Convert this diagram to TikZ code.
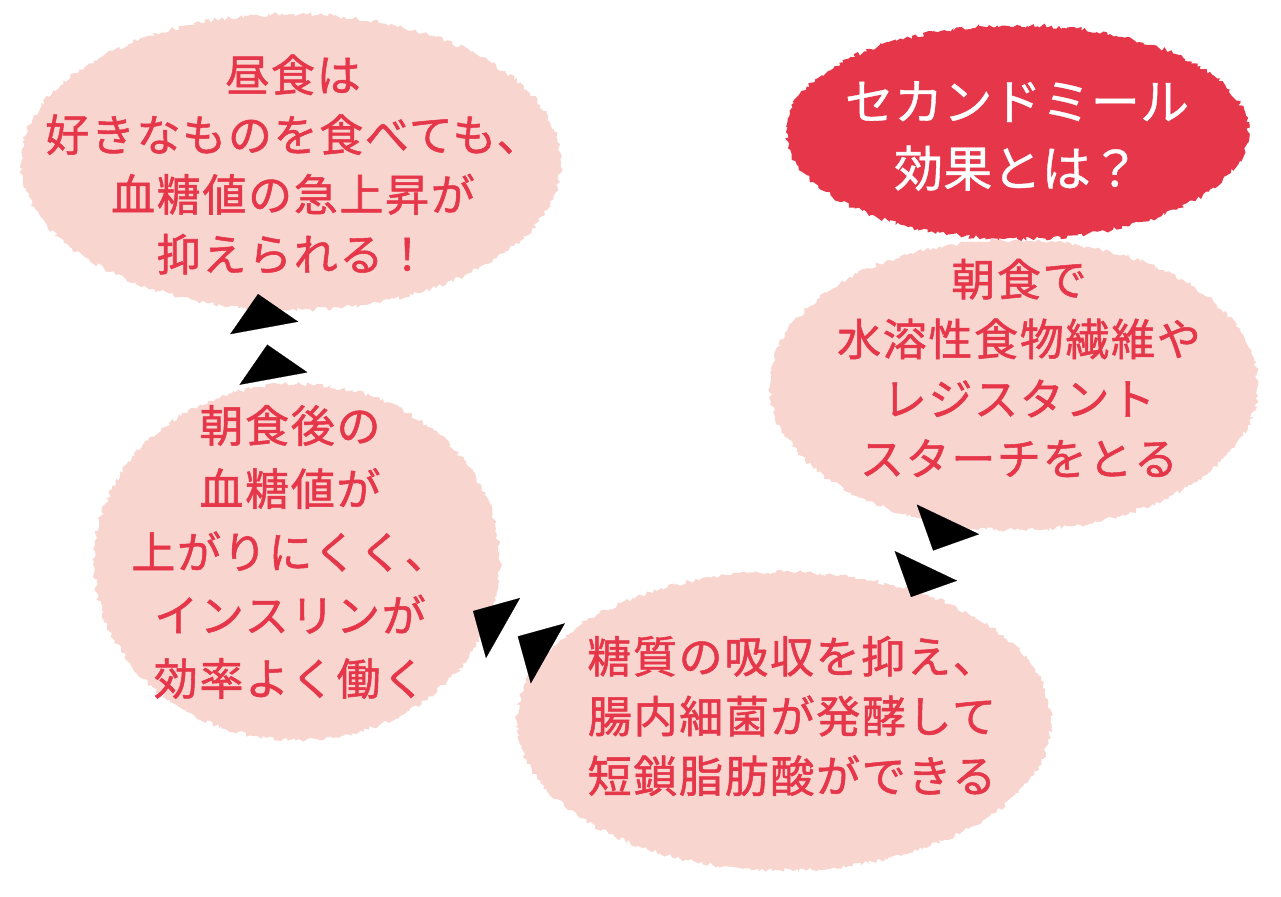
\documentclass[tikz,border=0pt]{standalone}
\usepackage{fontspec}
\usetikzlibrary{arrows.meta,shapes.geometric,decorations.pathmorphing}
\newfontfamily\jpfont[LetterSpace=4,RawFeature={embolden=1.2}]{Noto Sans CJK JP}
\newfontfamily\jptitle[RawFeature={embolden=0.8}]{Noto Sans CJK JP}
\definecolor{Blush}{HTML}{F8D6CF}
\definecolor{Crimson}{HTML}{E6364A}

\begin{document}
\begin{tikzpicture}[x=0.02cm,y=-0.02cm,
      bubble/.style={ellipse,fill=Blush,inner sep=0pt,
        decorate,decoration={random steps,segment length=1.6pt,amplitude=1.3pt}},
      headline/.style={bubble,fill=Crimson},
      msg/.style={align=center,text=Crimson,inner sep=0pt,
        font=\jpfont\fontsize{25}{34}\selectfont},
      titlemsg/.style={align=center,text=white,inner sep=0pt,
        font=\jptitle\fontsize{28}{38}\selectfont},
      twotips/.style={-{Triangle[length=0.69cm,width=1.38cm,sep=0.34cm]Triangle[length=0.69cm,width=1.38cm]},
        line width=0.1pt,draw=black}]
      \pgfmathsetseed{7}
      \useasboundingbox (0,0) rectangle (1281,896);
      % bubbles
      \node[bubble,minimum width=10.8cm,minimum height=5.92cm] (lunch) at (291,162) {};
      \node[bubble,minimum width=9.76cm,minimum height=5.8cm] (breakfast) at (1014,385) {};
      \node[headline,minimum width=9.24cm,minimum height=4.28cm] (title) at (1017,132) {};
      \node[bubble,minimum width=8.12cm,minimum height=7.12cm] (after) at (297,562) {};
      \node[bubble,minimum width=10.68cm,minimum height=5.96cm] (gut) at (784,721) {};
      % texts
      \node[msg] (lunch-txt) at (293,164.5)
        {昼食は\\好きなものを食べても、\\血糖値の急上昇が\\抑えられる！};
      \node[titlemsg] (title-txt) at (1017,136) {セカンドミール\\効果とは？};
      \node[msg] (breakfast-txt) at (1019,368)
        {朝食で\\水溶性食物繊維や\\レジスタント\\スターチをとる};
      \node[msg,font=\jpfont\fontsize{25}{36}\selectfont] (after-txt) at (290,552)
        {朝食後の\\血糖値が\\上がりにくく、\\インスリンが\\効率よく働く};
      \node[msg] (gut-txt) at (792,716)
        {糖質の吸収を抑え、\\腸内細菌が発酵して\\短鎖脂肪酸ができる};
      % arrow ends
      \coordinate (c-tail) at (925.8,565.9);
      \coordinate (c-tip) at (911,597);
      \coordinate (b-tail) at (503,628);
      \coordinate (b-tip) at (473,611);
      \coordinate (a-tail) at (264.2,327.9);
      \coordinate (a-tip) at (258,294);
      \draw[twotips] (c-tail) -- (c-tip);
      \draw[twotips] (b-tail) -- (b-tip);
      \draw[twotips] (a-tail) -- (a-tip);
    \end{tikzpicture}
\end{document}
